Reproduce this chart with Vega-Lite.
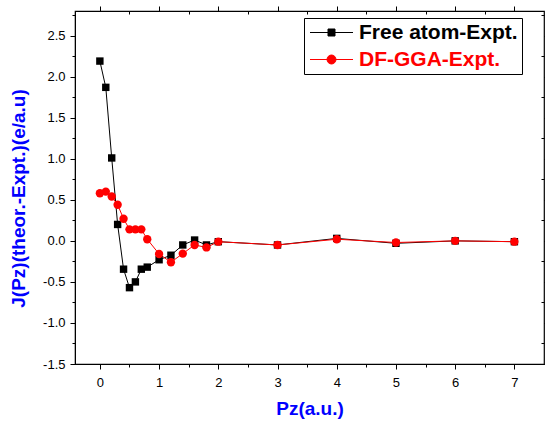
{
  "$schema": "https://vega.github.io/schema/vega-lite/v6.json",
  "width": 469,
  "height": 353,
  "autosize": {"type": "none"},
  "padding": {"left": 75, "top": 11, "right": 1, "bottom": 64},
  "background": "white",
  "config": {
    "font": "Liberation Sans",
    "view": {"stroke": "black", "strokeWidth": 1.2},
    "axis": {
      "grid": false,
      "domainColor": "black",
      "tickColor": "black",
      "labelColor": "black",
      "labelFont": "Liberation Sans",
      "labelFontSize": 13,
      "tickWidth": 1,
      "titleFont": "Liberation Sans",
      "titleFontSize": 19,
      "titleFontWeight": "bold",
      "titleColor": "#0000ff"
    },
    "legend": {
      "orient": "none",
      "legendX": 229,
      "legendY": 7,
      "strokeColor": "black",
      "padding": 4,
      "symbolOffset": 13,
      "symbolSize": 400,
      "labelOffset": 17,
      "labelFont": "Liberation Sans",
      "labelFontSize": 21,
      "labelFontWeight": "bold",
      "rowPadding": 5,
      "labelLimit": 300
    }
  },
  "data": {
    "values": [
      {"series": "Free atom-Expt.", "pz": 0, "j": 2.19},
      {"series": "Free atom-Expt.", "pz": 0.1, "j": 1.87},
      {"series": "Free atom-Expt.", "pz": 0.2, "j": 1.01},
      {"series": "Free atom-Expt.", "pz": 0.3, "j": 0.2},
      {"series": "Free atom-Expt.", "pz": 0.4, "j": -0.345},
      {"series": "Free atom-Expt.", "pz": 0.5, "j": -0.57},
      {"series": "Free atom-Expt.", "pz": 0.6, "j": -0.5},
      {"series": "Free atom-Expt.", "pz": 0.7, "j": -0.345},
      {"series": "Free atom-Expt.", "pz": 0.8, "j": -0.32},
      {"series": "Free atom-Expt.", "pz": 1.0, "j": -0.23},
      {"series": "Free atom-Expt.", "pz": 1.2, "j": -0.175},
      {"series": "Free atom-Expt.", "pz": 1.4, "j": -0.05},
      {"series": "Free atom-Expt.", "pz": 1.6, "j": 0.01},
      {"series": "Free atom-Expt.", "pz": 1.8, "j": -0.05},
      {"series": "Free atom-Expt.", "pz": 2.0, "j": -0.01},
      {"series": "Free atom-Expt.", "pz": 3, "j": -0.05},
      {"series": "Free atom-Expt.", "pz": 4, "j": 0.03},
      {"series": "Free atom-Expt.", "pz": 5, "j": -0.03},
      {"series": "Free atom-Expt.", "pz": 6, "j": 0.0},
      {"series": "Free atom-Expt.", "pz": 7, "j": -0.01},
      {"series": "DF-GGA-Expt.", "pz": 0, "j": 0.58},
      {"series": "DF-GGA-Expt.", "pz": 0.1, "j": 0.6},
      {"series": "DF-GGA-Expt.", "pz": 0.2, "j": 0.54},
      {"series": "DF-GGA-Expt.", "pz": 0.3, "j": 0.44},
      {"series": "DF-GGA-Expt.", "pz": 0.4, "j": 0.27},
      {"series": "DF-GGA-Expt.", "pz": 0.5, "j": 0.14},
      {"series": "DF-GGA-Expt.", "pz": 0.6, "j": 0.14},
      {"series": "DF-GGA-Expt.", "pz": 0.7, "j": 0.14},
      {"series": "DF-GGA-Expt.", "pz": 0.8, "j": 0.02},
      {"series": "DF-GGA-Expt.", "pz": 1.0, "j": -0.16},
      {"series": "DF-GGA-Expt.", "pz": 1.2, "j": -0.26},
      {"series": "DF-GGA-Expt.", "pz": 1.4, "j": -0.155},
      {"series": "DF-GGA-Expt.", "pz": 1.6, "j": -0.05},
      {"series": "DF-GGA-Expt.", "pz": 1.8, "j": -0.08},
      {"series": "DF-GGA-Expt.", "pz": 2.0, "j": -0.01},
      {"series": "DF-GGA-Expt.", "pz": 3, "j": -0.05},
      {"series": "DF-GGA-Expt.", "pz": 4, "j": 0.02},
      {"series": "DF-GGA-Expt.", "pz": 5, "j": -0.02},
      {"series": "DF-GGA-Expt.", "pz": 6, "j": 0.0},
      {"series": "DF-GGA-Expt.", "pz": 7, "j": -0.01}
    ]
  },
  "layer": [
    {
      "mark": {"type": "line", "strokeWidth": 1},
      "encoding": {
        "x": {
          "field": "pz", "type": "quantitative",
          "scale": {"domain": [-0.42, 7.5], "nice": false, "zero": false},
          "axis": {
            "orient": "bottom",
            "title": "Pz(a.u.)",
            "values": [0, 0.5, 1, 1.5, 2, 2.5, 3, 3.5, 4, 4.5, 5, 5.5, 6, 6.5, 7],
            "format": ".0f",
            "labelExpr": "datum.value % 1 === 0 ? datum.label : ''",
            "tickSize": {"condition": {"test": "datum.value % 1 === 0", "value": 5}, "value": 3},
            "labelPadding": 7,
            "titlePadding": 10
          }
        },
        "y": {
          "field": "j", "type": "quantitative",
          "scale": {"domain": [-1.5, 2.8], "nice": false, "zero": false},
          "axis": {
            "orient": "left",
            "title": "J(Pz)(theor.-Expt.)(e/a.u)",
            "values": [-1.5, -1.25, -1, -0.75, -0.5, -0.25, 0, 0.25, 0.5, 0.75, 1, 1.25, 1.5, 1.75, 2, 2.25, 2.5, 2.75],
            "labelExpr": "(datum.value * 2) % 1 === 0 ? (datum.value < 0 ? '-' + format(-datum.value, '.1f') : format(datum.value, '.1f')) : ''",
            "tickSize": {"condition": {"test": "(datum.value * 2) % 1 === 0", "value": 5}, "value": 3},
            "labelPadding": 5,
            "titlePadding": 14,
            "titleY": 187
          }
        },
        "color": {
          "field": "series", "type": "nominal",
          "scale": {"domain": ["Free atom-Expt.", "DF-GGA-Expt."], "range": ["#000000", "#ff0000"]},
          "legend": {
            "title": null,
            "encode": {
              "symbols": {
                "update": {
                  "shape": {"signal": "datum.value === 'Free atom-Expt.' ? 'M-2.15,0H2.15M-0.35,-0.35H0.35V0.35H-0.35Z' : 'M-2.15,0H2.15M0.45,0A0.45,0.45 0 1,1 -0.45,0A0.45,0.45 0 1,1 0.45,0Z'"},
                  "stroke": {"signal": "datum.value === 'Free atom-Expt.' ? '#000000' : '#ff0000'"},
                  "fill": {"signal": "datum.value === 'Free atom-Expt.' ? '#000000' : '#ff0000'"},
                  "strokeWidth": {"value": 1},
                  "opacity": {"value": 1},
                  "size": {"value": 400}
                }
              },
              "labels": {
                "update": {
                  "fill": {"signal": "datum.value === 'Free atom-Expt.' ? '#000000' : '#ff0000'"}
                }
              }
            }
          }
        }
      }
    },
    {
      "mark": {"type": "point", "opacity": 0},
      "encoding": {
        "x": {
          "field": "pz", "type": "quantitative",
          "axis": {
            "orient": "top", "title": null, "labels": false, "domain": false,
            "values": [0, 0.5, 1, 1.5, 2, 2.5, 3, 3.5, 4, 4.5, 5, 5.5, 6, 6.5, 7],
            "tickSize": {"condition": {"test": "datum.value % 1 === 0", "value": 5}, "value": -3}
          }
        },
        "y": {
          "field": "j", "type": "quantitative",
          "axis": {
            "orient": "right", "title": null, "labels": false, "domain": false,
            "values": [-1.5, -1.25, -1, -0.75, -0.5, -0.25, 0, 0.25, 0.5, 0.75, 1, 1.25, 1.5, 1.75, 2, 2.25, 2.5, 2.75],
            "tickSize": {"condition": {"test": "(datum.value * 2) % 1 === 0", "value": 5}, "value": -3}
          }
        }
      }
    },
    {
      "transform": [{"filter": "datum.series === 'Free atom-Expt.'"}],
      "mark": {"type": "point", "shape": "square", "filled": true, "opacity": 1, "size": 55, "color": "#000000"},
      "encoding": {
        "x": {"field": "pz", "type": "quantitative", "axis": null},
        "y": {"field": "j", "type": "quantitative", "axis": null}
      }
    },
    {
      "transform": [{"filter": "datum.series === 'DF-GGA-Expt.'"}],
      "mark": {"type": "point", "shape": "circle", "filled": true, "opacity": 1, "size": 70, "color": "#ff0000"},
      "encoding": {
        "x": {"field": "pz", "type": "quantitative", "axis": null},
        "y": {"field": "j", "type": "quantitative", "axis": null}
      }
    }
  ],
  "resolve": {"axis": {"x": "independent", "y": "independent"}}
}
